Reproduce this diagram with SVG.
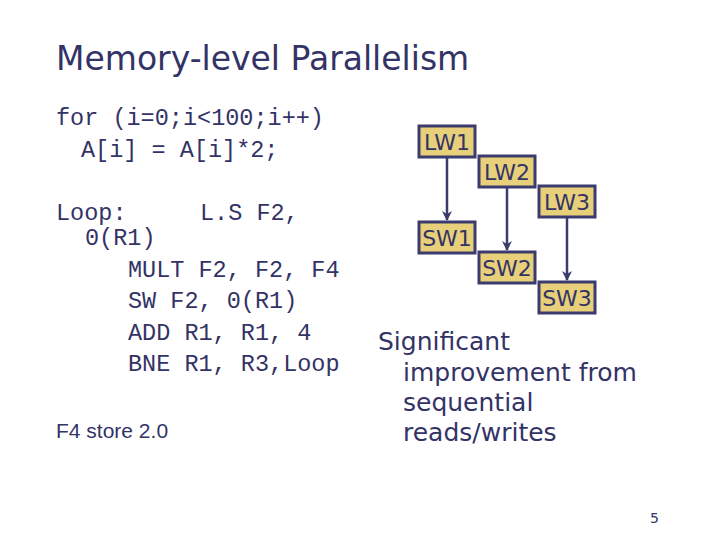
<svg xmlns="http://www.w3.org/2000/svg" width="720" height="540" viewBox="0 0 720 540">
<defs>
<style>
.t{font-family:"DejaVu Sans",sans-serif;fill:#333366}
.m{font-family:"Liberation Mono",monospace;font-size:23.5px;fill:#333366}
.box rect{fill:#E8D07A;stroke:#3B3B6E;stroke-width:3}
.box text{font-family:"DejaVu Sans",sans-serif;font-size:22px;fill:#333366;text-anchor:middle}
.c line{stroke:#3B3B6E;stroke-width:2.5;marker-end:url(#a)}
</style>
<marker id="a" markerWidth="10" markerHeight="10" refX="9" refY="5" orient="auto" markerUnits="userSpaceOnUse"><path d="M0,0 L10,5 L0,10 L3,5 z" fill="#3B3B6E"/></marker>
</defs>
<rect width="720" height="540" fill="#fff"/>
<text class="t" x="56" y="70" font-size="33">Memory-level Parallelism</text>
<text class="m" x="56" y="125">for (i=0;i&lt;100;i++)</text>
<text class="m" x="81" y="157">A[i] = A[i]*2;</text>
<text class="m" x="56" y="220">Loop:</text>
<text class="m" x="200" y="220">L.S F2,</text>
<text class="m" x="85" y="245">0(R1)</text>
<text class="m" x="128" y="277">MULT F2, F2, F4</text>
<text class="m" x="128" y="308">SW F2, 0(R1)</text>
<text class="m" x="128" y="340">ADD R1, R1, 4</text>
<text class="m" x="128" y="371">BNE R1, R3,Loop</text>
<text class="t" x="56" y="438" font-size="21" style="font-family:'Liberation Sans',sans-serif">F4 store 2.0</text>
<g class="c">
<line x1="447" y1="157" x2="447" y2="220"/>
<line x1="507" y1="187" x2="507" y2="250"/>
<line x1="567" y1="217" x2="567" y2="280"/>
</g>
<g id="LW1" class="box"><rect x="419" y="126" width="56" height="31"/><text x="447" y="150">LW1</text></g>
<g id="LW2" class="box"><rect x="479" y="156" width="56" height="31"/><text x="507" y="180">LW2</text></g>
<g id="LW3" class="box"><rect x="539" y="186" width="56" height="31"/><text x="567" y="210">LW3</text></g>
<g id="SW1" class="box"><rect x="419" y="222" width="56" height="31"/><text x="447" y="246">SW1</text></g>
<g id="SW2" class="box"><rect x="479" y="252" width="56" height="31"/><text x="507" y="276">SW2</text></g>
<g id="SW3" class="box"><rect x="539" y="282" width="56" height="31"/><text x="567" y="306">SW3</text></g>
<text class="t" x="378" y="350" font-size="25">Significant</text>
<text class="t" x="403" y="381" font-size="25">improvement from</text>
<text class="t" x="403" y="411" font-size="25">sequential</text>
<text class="t" x="403" y="441" font-size="25">reads/writes</text>
<text class="t" x="650" y="523" font-size="14">5</text>
</svg>
